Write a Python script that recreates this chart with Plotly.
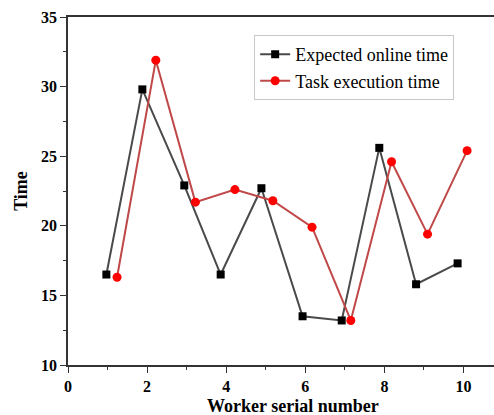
import plotly.graph_objects as go

# Worker positions and times for the two series
online_x = [0.97, 1.88, 2.94, 3.86, 4.89, 5.93, 6.92, 7.87, 8.80, 9.85]
online_time = [16.5, 29.8, 22.9, 16.5, 22.7, 13.5, 13.2, 25.6, 15.8, 17.3]

exec_x = [1.24, 2.22, 3.22, 4.22, 5.18, 6.17, 7.15, 8.18, 9.09, 10.09]
exec_time = [16.3, 31.9, 21.7, 22.6, 21.8, 19.9, 13.2, 24.6, 19.4, 25.4]

x_ticks = [0, 2, 4, 6, 8, 10]
y_ticks = [10, 15, 20, 25, 30, 35]

serif = "Liberation Serif, Times New Roman, serif"
axis_col = "#333333"

fig = go.Figure()
fig.add_trace(go.Scatter(
    x=online_x, y=online_time, name="Expected online time",
    mode="lines+markers",
    line=dict(color="#4a4a4a", width=2),
    marker=dict(symbol="square", size=8, color="#000000"),
))
fig.add_trace(go.Scatter(
    x=exec_x, y=exec_time, name="Task execution time",
    mode="lines+markers",
    line=dict(color="#c04848", width=2),
    marker=dict(symbol="circle", size=9, color="#ff0000"),
))

fig.update_layout(
    width=494, height=415,
    margin=dict(l=68, r=0, t=17, b=50),
    paper_bgcolor="white", plot_bgcolor="white",
    font=dict(family=serif, color="#000000"),
    showlegend=True,
    legend=dict(
        x=0.437, y=0.948, xanchor="left", yanchor="top",
        bgcolor="white", bordercolor="#c8c8c8", borderwidth=1,
        font=dict(family=serif, size=18, color="#000000"),
        tracegroupgap=0, itemwidth=30,
    ),
    xaxis=dict(
        range=[0, 10.77], tickvals=x_ticks, ticktext=[str(v) for v in x_ticks],
        showline=True, linecolor=axis_col, linewidth=1.5, mirror=True,
        ticks="outside", ticklen=6, tickwidth=1.2, tickcolor=axis_col,
        minor=dict(dtick=1, tick0=0, ticks="outside", ticklen=3, tickcolor=axis_col, showgrid=False),
        showgrid=False, zeroline=False,
        tickfont=dict(family=serif, size=16, color="#000000", weight="bold"),
    ),
    yaxis=dict(
        range=[10, 35], tickvals=y_ticks, ticktext=[str(v) for v in y_ticks],
        showline=True, linecolor=axis_col, linewidth=1.5,
        ticks="outside", ticklen=6, tickwidth=1.2, tickcolor=axis_col,
        minor=dict(dtick=2.5, tick0=10, ticks="outside", ticklen=3, tickcolor=axis_col, showgrid=False),
        showgrid=False, zeroline=False,
        tickfont=dict(family=serif, size=16, color="#000000", weight="bold"),
        title=dict(text="Time", font=dict(family=serif, size=18, weight="bold"), standoff=9),
    ),
)

fig.add_annotation(
    text="Worker serial number", xref="paper", yref="paper",
    x=(293 - 68) / (494 - 68), y=-0.082, xanchor="center", yanchor="top",
    showarrow=False, font=dict(family=serif, size=18, color="#000000", weight="bold"),
)

fig.write_html("out.html")
